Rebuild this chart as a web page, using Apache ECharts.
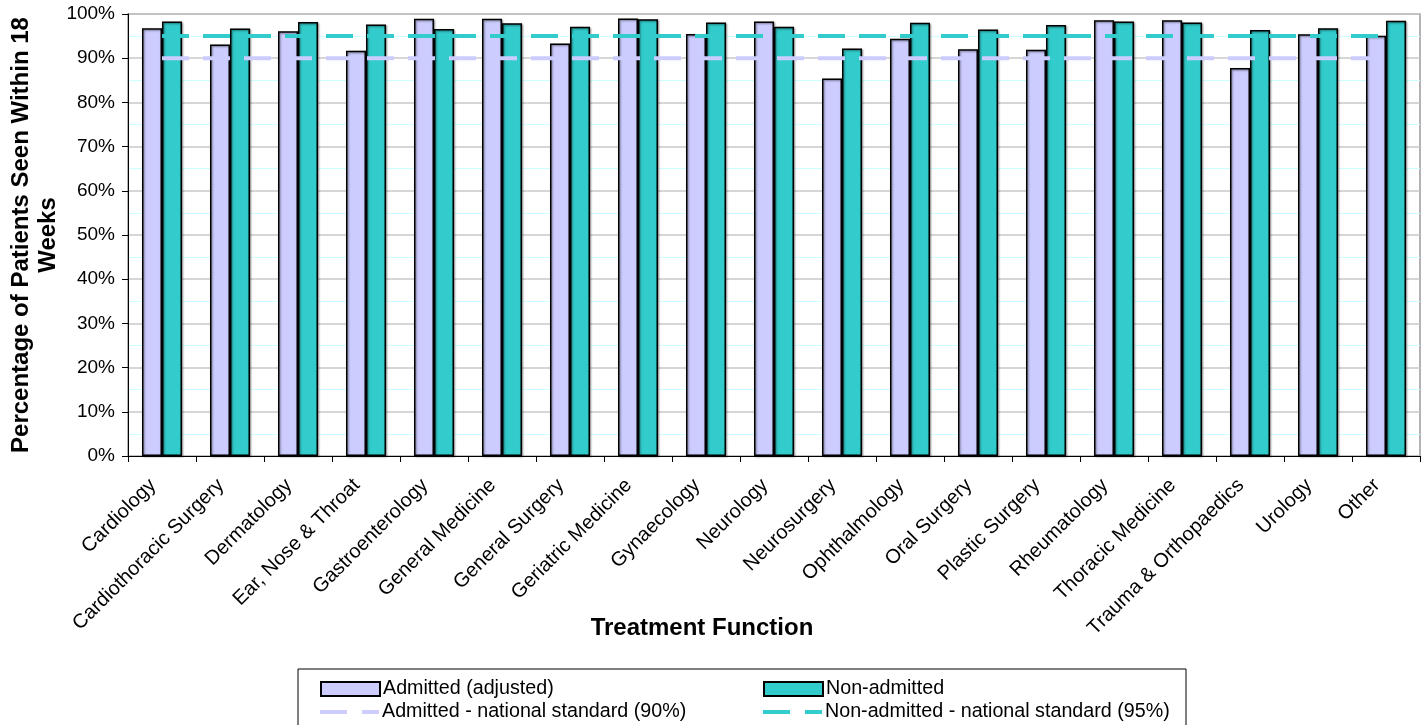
<!DOCTYPE html>
<html>
<head>
<meta charset="utf-8">
<script src="https://cdn.jsdelivr.net/npm/echarts@6/dist/echarts.min.js"></script>
<style>
html,body{margin:0;padding:0;background:#fff;}
#chart{width:1428px;height:725px;}
</style>
</head>
<body>
<div id="chart"></div>
<script>
const categories = ['Cardiology','Cardiothoracic Surgery','Dermatology','Ear, Nose & Throat','Gastroenterology','General Medicine','General Surgery','Geriatric Medicine','Gynaecology','Neurology','Neurosurgery','Ophthalmology','Oral Surgery','Plastic Surgery','Rheumatology','Thoracic Medicine','Trauma & Orthopaedics','Urology','Other'];
const admitted = [96.8,93.1,96.1,91.7,98.9,98.9,93.3,99.0,95.5,98.3,85.4,94.4,92.0,91.9,98.6,98.6,87.8,95.4,95.1];
const nonAdmitted = [98.3,96.7,98.2,97.6,96.6,97.9,97.1,98.8,98.1,97.1,92.2,98.0,96.5,97.5,98.3,98.1,96.4,96.8,98.5];
const admittedStandard = [90,90,90,90,90,90,90,90,90,90,90,90,90,90,90,90,90,90,90];
const nonAdmittedStandard = [95,95,95,95,95,95,95,95,95,95,95,95,95,95,95,95,95,95,95];
const yTicks = [0,10,20,30,40,50,60,70,80,90,100];
const seriesNames = ['Admitted (adjusted)','Non-admitted','Admitted - national standard (90%)','Non-admitted - national standard (95%)'];

const FONT = '"Liberation Sans", Arial, sans-serif';
const LAV = '#CCCCFF', TEAL = '#33CCCC';
const barStyle = {borderColor:'#000', borderWidth:1.5, shadowColor:'rgba(0,0,0,0.45)', shadowBlur:2, shadowOffsetX:1, shadowOffsetY:1};
const DASH_ICON = 'path://M0,0H27V4H0Z M42,0H59V4H42Z';

function legendItem(name, left, top, isLine) {
  return {
    left:left, top:top, orient:'horizontal', itemGap:0, padding:0,
    itemWidth:59, itemHeight:isLine ? 4 : 14, selectedMode:false,
    textStyle:{fontSize:19.7, fontFamily:FONT, color:'#000', padding:[0,0,0,-2]},
    data:[isLine ? {name:name, icon:DASH_ICON} : {name:name, icon:'rect'}]
  };
}

const chart = echarts.init(document.getElementById('chart'), null, {renderer:'canvas'});
chart.setOption({
  animation:false,
  backgroundColor:'#fff',
  textStyle:{fontFamily:FONT, color:'#000'},
  grid:{left:128, right:8, top:14, bottom:269, containLabel:false, outerBoundsMode:'none',
        show:true, borderColor:'#999', borderWidth:1.5},
  xAxis:{
    type:'category', data:categories,
    name:'Treatment Function', nameLocation:'middle', nameGap:160, nameMoveOverlap:false,
    nameTextStyle:{fontFamily:FONT, fontSize:24, fontWeight:'bold', color:'#000', padding:[0,144,0,0]},
    axisLine:{lineStyle:{color:'#000', width:1}},
    axisTick:{show:true, length:6, lineStyle:{color:'#000'}},
    axisLabel:{rotate:45, interval:0, fontSize:20, color:'#000', fontFamily:FONT, margin:17, padding:[0,13,0,0]}
  },
  yAxis:{
    type:'value', min:yTicks[0], max:yTicks[yTicks.length-1], interval:10,
    name:'Percentage of Patients Seen Within 18\nWeeks', nameLocation:'middle', nameGap:66, nameRotate:90,
    nameMoveOverlap:false,
    nameTextStyle:{fontFamily:FONT, fontSize:24, fontWeight:'bold', color:'#000', lineHeight:27, align:'center'},
    axisLine:{show:true, lineStyle:{color:'#000', width:1}},
    axisTick:{show:true, length:6, lineStyle:{color:'#000'}},
    axisLabel:{formatter:'{value}%', fontSize:19, color:'#000', fontFamily:FONT, margin:13},
    splitLine:{show:true, lineStyle:{color:'#C8C8C8', width:1.5}},
    minorTick:{show:false, splitNumber:2},
    minorSplitLine:{show:true, lineStyle:{color:'#CCFFFF', width:1}}
  },
  legend:[
    legendItem(seriesNames[0], 320, 679, false),
    legendItem(seriesNames[2], 320, 702, true),
    legendItem(seriesNames[1], 763, 679, false),
    legendItem(seriesNames[3], 763, 702, true)
  ],
  graphic:[{type:'rect', shape:{x:298, y:669, width:888, height:70}, style:{fill:'none', stroke:'#000', lineWidth:1}, z:-1}],
  series:[
    {name:seriesNames[0], type:'bar', data:admitted, barWidth:20, barGap:'0%',
     itemStyle:Object.assign({color:LAV}, barStyle)},
    {name:seriesNames[1], type:'bar', data:nonAdmitted, barWidth:20, barGap:'0%',
     itemStyle:Object.assign({color:TEAL}, barStyle)},
    {name:seriesNames[2], type:'line', data:admittedStandard, symbol:'none',
     itemStyle:{color:LAV}, lineStyle:{color:LAV, width:4, type:[27,14]}, z:5},
    {name:seriesNames[3], type:'line', data:nonAdmittedStandard, symbol:'none',
     itemStyle:{color:TEAL}, lineStyle:{color:TEAL, width:4, type:[27,14]}, z:5}
  ]
});
</script>
</body>
</html>
